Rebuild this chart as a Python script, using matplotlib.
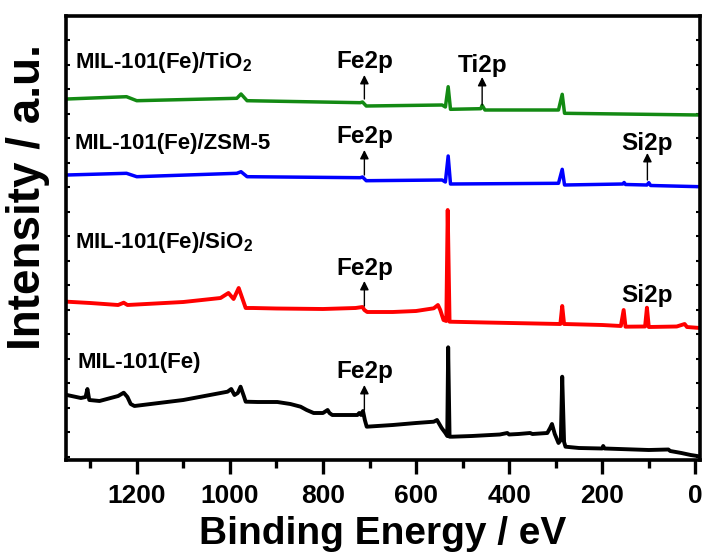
import numpy as np
import matplotlib
matplotlib.use('Agg')
import matplotlib.pyplot as plt

plt.rcParams['font.family'] = ['Liberation Sans', 'DejaVu Sans']
plt.rcParams['font.weight'] = 'bold'
plt.rcParams['mathtext.fontset'] = 'custom'
plt.rcParams['mathtext.rm'] = 'Liberation Sans:bold'
plt.rcParams['mathtext.bf'] = 'Liberation Sans:bold'
plt.rcParams['mathtext.default'] = 'rm'

# XPS survey spectra, binding energy (eV) vs. stacked intensity (a.u.)
be_fe = [1350, 1320, 1310, 1306, 1302, 1280, 1240, 1228, 1220, 1213, 1205, 1100, 1005, 997, 990,
         983, 977, 970, 966, 940, 898, 870, 848, 835, 820, 800, 790, 786, 780, 726, 722, 718, 714,
         710, 706, 650, 600, 562, 555, 545, 537, 533, 531, 528, 522, 480, 420, 404, 400, 380, 355,
         350, 318, 312, 308, 302, 294, 289, 286, 282, 279, 250, 200, 198, 195, 100, 58, 54, 30, 10,
         -4, -10]
int_fe = [65, 62, 63, 71, 60, 59, 64, 67.3, 63, 56, 54, 60, 68.3, 71, 65, 67, 73.3, 64, 58.3, 58,
          58, 56, 53.3, 50, 47, 47, 50, 47, 45, 45, 47, 45, 49, 40, 33.3, 35, 37, 38.3, 40, 32, 27,
          24, 112.7, 23.3, 23.3, 24, 25.5, 27, 25.5, 26, 27, 26, 27, 32, 36, 26, 17, 20, 83.3, 18,
          13.3, 12, 11.5, 14, 11.5, 10, 10.5, 9, 7, 5, 4, 3]

be_sio2 = [1350, 1300, 1240, 1228, 1220, 1100, 1020, 1003, 992, 981, 966, 950, 900, 800, 730, 715,
           711, 705, 650, 600, 562, 553, 548, 541, 535, 532, 528, 450, 290, 286, 282, 200, 160, 154,
           150, 108, 104, 100, 40, 23, 18, -10]
int_sio2 = [158.3, 157, 155, 157.3, 155, 158, 162, 167, 161, 172, 152, 152, 151.5, 151, 152, 153,
            150, 148, 148, 149, 151.7, 155, 150, 140, 139, 250, 138.3, 137.5, 136, 154, 136, 135,
            134, 150, 133.3, 133.5, 152.3, 133, 133.5, 136, 133, 132]

be_zsm = [1350, 1222, 1200, 985, 976, 963, 720, 715, 707, 544, 537, 531, 526, 294, 286, 281, 156,
          153, 150, 104, 100, 96, -10]
int_zsm = [285, 286.7, 283.3, 286.7, 288.3, 283.3, 282.3, 283, 279.3, 280, 278, 304, 276, 276.7,
           290.7, 275, 276, 277.5, 275.5, 275, 277.3, 274.5, 273.3]

be_tio2 = [1350, 1222, 1200, 985, 976, 963, 720, 715, 707, 544, 537, 531, 526, 461, 458, 452, 294,
           286, 281, -10]
int_tio2 = [361, 363.3, 359.3, 361.7, 366, 359.3, 357.3, 358, 354, 355, 353, 373.3, 350.7, 351.3,
            354.7, 350, 350, 365.7, 346.7, 345]

samples = ['MIL-101(Fe)', 'MIL-101(Fe)/SiO$_2$', 'MIL-101(Fe)/ZSM-5', 'MIL-101(Fe)/TiO$_2$']
colors = ['black', '#ff0000', '#0000ff', '#138a13']

fig = plt.figure(figsize=(7.03, 5.57), dpi=100)
ax = fig.add_axes([66 / 703, 97 / 557, 634 / 703, 444 / 557])

ax.plot(be_fe, int_fe, color=colors[0], lw=2.8, solid_joinstyle='round')
ax.plot(be_sio2, int_sio2, color=colors[1], lw=2.8, solid_joinstyle='round')
ax.plot(be_zsm, int_zsm, color=colors[2], lw=2.5, solid_joinstyle='round')
ax.plot(be_tio2, int_tio2, color=colors[3], lw=2.5, solid_joinstyle='round')

ax.set_xlim(1352, -10)
ax.set_ylim(0, 444)

# sample names
ax.text(1327, 92, samples[0], fontsize=16, fontweight='bold')
ax.text(1333, 212, samples[1], fontsize=16, fontweight='bold')
ax.text(1333, 311, samples[2], fontsize=16, fontweight='bold')
ax.text(1333, 392, samples[3], fontsize=16, fontweight='bold')

# peak labels with arrows
def mark(x, y_tail, y_head, label, y_text):
    ax.annotate('', xy=(x, y_head), xytext=(x, y_tail),
                arrowprops=dict(arrowstyle='-|>', color='black', lw=1.0,
                                mutation_scale=13, shrinkA=0, shrinkB=0))
    ax.text(x, y_text, label, fontsize=17.5, fontweight='bold', ha='center', va='baseline')

mark(711, 50, 75, 'Fe2p', 82)
mark(711, 154, 179, 'Fe2p', 185)
mark(711, 285, 310, 'Fe2p', 317)
mark(711, 361, 385, 'Fe2p', 392)
mark(458, 355, 383, 'Ti2p', 388)
mark(103, 280, 307, 'Si2p', 310)
ax.text(103, 158, 'Si2p', fontsize=17.5, fontweight='bold', ha='center', va='baseline')

ax.set_xticks([1200, 1000, 800, 600, 400, 200, 0])
ax.set_xticks([1300, 1100, 900, 700, 500, 300, 100], minor=True)
ax.set_yticks(np.arange(3.5, 444, 24.5))
ax.set_yticklabels([])
ax.tick_params(axis='x', which='major', direction='out', length=10, width=2.4,
               labelsize=19, pad=7)
ax.tick_params(axis='x', which='minor', direction='out', length=6, width=2.4)
ax.tick_params(axis='y', direction='in', length=3, width=1.5, left=True, right=True)
for lab in ax.get_xticklabels():
    lab.set_fontweight('bold')
for sp in ax.spines.values():
    sp.set_linewidth(2.6)

fig.text(383 / 703, 1 - 544 / 557, 'Binding Energy / eV', fontsize=28, fontweight='bold',
         ha='center', va='baseline')
fig.text(28 / 703, 1 - 197 / 557, 'Intensity / a.u.', fontsize=33, fontweight='bold',
         ha='center', va='center', rotation=90)

fig.savefig('out.png', dpi=100)
